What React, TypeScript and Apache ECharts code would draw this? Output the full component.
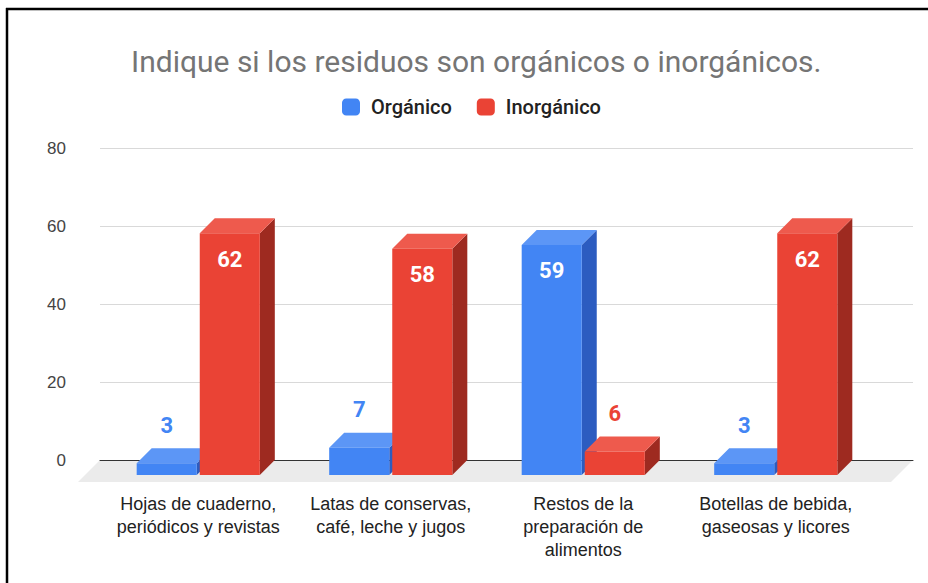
import React, { useEffect, useRef } from "react";
import * as echarts from "echarts";

const titleText = "Indique si los residuos son orgánicos o inorgánicos.";
const categories = [
  "Hojas de cuaderno,\nperiódicos y revistas",
  "Latas de conservas,\ncafé, leche y jugos",
  "Restos de la\npreparación de\nalimentos",
  "Botellas de bebida,\ngaseosas y licores",
];
const seriesNames = ["Orgánico", "Inorgánico"];
const organico = [3, 7, 59, 3];
const inorganico = [62, 58, 6, 62];
const yTicks = { min: 0, max: 80, interval: 20 };

const COLORS = {
  blue: { front: "#4285f4", top: "#5c96f6", side: "#2c5cc0" },
  red: { front: "#ea4335", top: "#ee5a4d", side: "#9e2a20" },
};

const DEPTH = 15;

function makeRender(palette: any, first: boolean) {
  return (params: any, api: any) => {
    const idx = api.value(0);
    const v = api.value(1);
    const top = api.coord([idx, v]);
    const base = api.coord([idx, 0]);
    const band = api.size([1, 0])[0];
    const w = band * 0.312;
    const gap = band * 0.0156;
    const cx = top[0];
    const x0 = first ? cx - gap / 2 - w : cx + gap / 2;
    const x1 = x0 + w;
    const yT = top[1];
    const yB = base[1];
    const D = DEPTH;
    const inside = v >= 15;
    return {
      type: "group",
      children: [
        {
          type: "polygon",
          shape: { points: [[x1, yT], [x1 + D, yT - D], [x1 + D, yB - D], [x1, yB]] },
          style: { fill: palette.side },
        },
        {
          type: "polygon",
          shape: { points: [[x0, yT], [x1, yT], [x1 + D, yT - D], [x0 + D, yT - D]] },
          style: { fill: palette.top },
        },
        {
          type: "rect",
          shape: { x: x0, y: yT, width: w, height: yB - yT },
          style: { fill: palette.front },
        },
        {
          type: "text",
          style: {
            text: String(v),
            x: (x0 + x1) / 2,
            y: inside ? yT + 26 : yT - D - 23,
            fill: inside ? "#ffffff" : palette.front,
            fontSize: 22,
            fontWeight: "bold",
            fontFamily: "Roboto, 'Liberation Sans', Arial, sans-serif",
            align: "center",
            verticalAlign: "middle",
          },
        },
      ],
    };
  };
}

export default function App() {
  const ref = useRef<HTMLDivElement>(null);
  useEffect(() => {
    if (!ref.current) return;
    const chart = echarts.init(ref.current, null, { renderer: "svg" });
    const option: any = {
      animation: false,
      backgroundColor: "#ffffff",
      title: {
        text: titleText,
        left: 126,
        top: 41,
        textStyle: {
          color: "#757575",
          fontSize: 30,
          fontWeight: "normal",
          fontFamily: "Roboto, 'Liberation Sans', Arial, sans-serif",
        },
      },
      legend: {
        data: seriesNames,
        top: 92,
        left: 337,
        icon: "roundRect",
        itemWidth: 18,
        itemHeight: 17,
        itemGap: 25,
        textStyle: {
          color: "#222222",
          fontSize: 20,
          fontWeight: 500,
          fontFamily: "Roboto, 'Liberation Sans', Arial, sans-serif",
          padding: [0, 0, 0, 6],
        },
      },
      graphic: [
        { type: "line", shape: { x1: 7, y1: 8, x2: 7, y2: 583 }, style: { stroke: "#000", lineWidth: 2.5 } },
        { type: "line", shape: { x1: 6, y1: 9, x2: 928, y2: 9 }, style: { stroke: "#000", lineWidth: 2.5 } },
      ],
      grid: [
        { left: 100, right: 15, top: 148, bottom: 123 },
        { left: 102, right: 56, top: 163, bottom: 108 },
      ],
      xAxis: [
        {
          type: "category",
          gridIndex: 0,
          data: categories,
          axisLine: { show: true, lineStyle: { color: "#333333", width: 1 } },
          axisTick: { show: false },
          axisLabel: { show: false },
          splitLine: { show: false },
        },
        {
          type: "category",
          gridIndex: 1,
          data: categories,
          axisLine: { show: false },
          axisTick: { show: false },
          axisLabel: {
            interval: 0,
            margin: 17,
            color: "#222222",
            fontSize: 18,
            lineHeight: 23,
            fontFamily: "'Liberation Sans', Arial, sans-serif",
          },
        },
      ],
      yAxis: [
        {
          type: "value",
          gridIndex: 0,
          min: yTicks.min,
          max: yTicks.max,
          interval: yTicks.interval,
          axisLine: { show: false },
          axisTick: { show: false },
          axisLabel: {
            margin: 34,
            color: "#444444",
            fontSize: 17,
            fontFamily: "'Liberation Sans', Arial, sans-serif",
          },
          splitLine: { show: true, showMinLine: false, lineStyle: { color: "#d9d9d9", width: 1 } },
        },
        {
          type: "value",
          gridIndex: 1,
          min: yTicks.min,
          max: yTicks.max,
          interval: yTicks.interval,
          show: false,
          splitLine: { show: false },
        },
      ],
      series: [
        {
          type: "custom",
          name: "floor",
          xAxisIndex: 0,
          yAxisIndex: 0,
          z: -1,
          silent: true,
          data: [[0, 0]],
          renderItem: (params: any) => {
            const cs = params.coordSys;
            const y0 = cs.y + cs.height;
            const D = 22;
            return {
              type: "polygon",
              shape: {
                points: [
                  [cs.x, y0],
                  [cs.x + cs.width, y0],
                  [cs.x + cs.width - D, y0 + D],
                  [cs.x - D, y0 + D],
                ],
              },
              style: { fill: "#ebebeb" },
            };
          },
        },
        {
          type: "custom",
          name: seriesNames[0],
          xAxisIndex: 1,
          yAxisIndex: 1,
          color: COLORS.blue.front,
          itemStyle: { color: COLORS.blue.front },
          encode: { x: 0, y: 1 },
          data: organico.map((v, i) => [i, v]),
          renderItem: makeRender(COLORS.blue, true),
        },
        {
          type: "custom",
          name: seriesNames[1],
          xAxisIndex: 1,
          yAxisIndex: 1,
          color: COLORS.red.front,
          itemStyle: { color: COLORS.red.front },
          encode: { x: 0, y: 1 },
          data: inorganico.map((v, i) => [i, v]),
          renderItem: makeRender(COLORS.red, false),
        },
      ],
    };
    chart.setOption(option);
    return () => chart.dispose();
  }, []);
  return (
    <div
      ref={ref}
      style={{ position: "fixed", left: 0, top: 0, width: 928, height: 583 }}
    />
  );
}
